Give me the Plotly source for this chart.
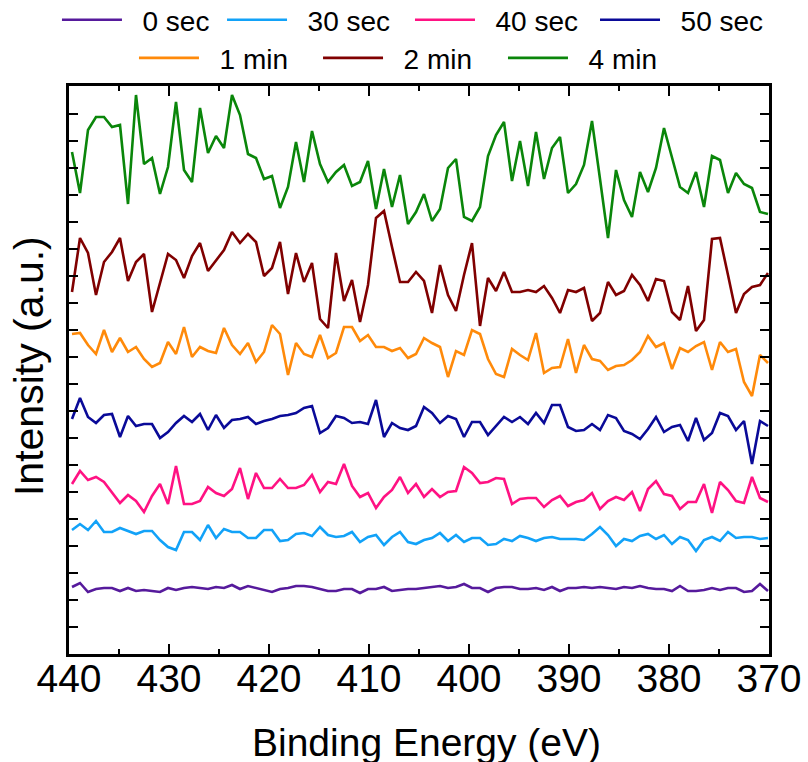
import numpy as np
import plotly.graph_objects as go

# Binding energy grid (eV), 88 channels
energy = np.round(439.7 - 0.8 * np.arange(88), 2)

# Stacked spectra, intensity in arbitrary units (offset for display)
s0_sec = [68, 72, 63, 66, 67, 67, 64, 67, 64, 65, 64,
          63, 67, 65, 67, 68, 67, 66, 68, 67, 70,
          66, 69, 67, 65, 63, 66, 67, 69, 69, 68,
          66, 64, 64, 66, 66, 62, 66, 66, 68, 64,
          65, 66, 66, 67, 68, 69, 67, 68, 71, 67,
          67, 63, 67, 68, 68, 66, 66, 67, 65, 68,
          64, 67, 67, 68, 67, 68, 67, 66, 68, 67,
          69, 67, 66, 66, 64, 69, 64, 64, 65, 67,
          65, 67, 67, 63, 64, 71, 64]
s30_sec = [125, 131, 125, 134, 123, 123, 127, 124, 121, 124, 124,
           115, 108, 105, 123, 123, 115, 130, 117, 126, 123,
           123, 117, 117, 125, 125, 114, 115, 121, 122, 119,
           128, 120, 118, 119, 123, 113, 118, 120, 110, 118,
           123, 113, 111, 115, 117, 122, 114, 120, 113, 117,
           117, 110, 111, 116, 114, 119, 117, 114, 117, 118,
           116, 116, 116, 115, 121, 128, 120, 109, 116, 114,
           119, 121, 116, 120, 111, 118, 115, 104, 115, 118,
           114, 123, 117, 118, 118, 116, 117]
s40_sec = [171, 184, 175, 178, 173, 163, 152, 160, 154, 143, 159,
           171, 151, 189, 151, 151, 154, 168, 162, 159, 166,
           187, 156, 182, 167, 167, 176, 167, 167, 170, 180,
           163, 173, 171, 191, 169, 158, 162, 147, 158, 165,
           178, 162, 171, 158, 166, 158, 163, 164, 188, 182,
           172, 173, 177, 176, 151, 156, 157, 157, 148, 155,
           159, 149, 153, 155, 162, 146, 154, 158, 155, 163,
           144, 166, 174, 161, 159, 146, 153, 153, 171, 142,
           173, 165, 154, 152, 178, 157, 153]
s50_sec = [236, 257, 238, 232, 240, 241, 218, 239, 229, 231, 231,
           217, 223, 232, 239, 233, 241, 225, 240, 227, 235,
           236, 238, 231, 234, 236, 239, 240, 242, 247, 249,
           222, 227, 239, 237, 232, 233, 231, 255, 218, 232,
           227, 225, 229, 248, 242, 232, 239, 236, 218, 233,
           233, 220, 229, 238, 233, 238, 231, 242, 232, 250,
           250, 228, 224, 225, 231, 225, 240, 237, 224, 221,
           216, 226, 238, 223, 228, 230, 214, 237, 215, 222,
           242, 239, 225, 234, 191, 234, 229]
s1_min = [321, 322, 310, 301, 325, 303, 317, 303, 308, 296, 288,
          292, 313, 301, 328, 298, 308, 304, 302, 327, 310,
          301, 312, 293, 303, 330, 321, 280, 312, 301, 298,
          320, 297, 302, 328, 328, 314, 320, 308, 308, 304,
          307, 297, 301, 317, 312, 308, 278, 304, 300, 325,
          321, 296, 281, 278, 306, 300, 295, 322, 282, 287,
          288, 316, 282, 310, 296, 294, 285, 289, 290, 295,
          303, 319, 308, 312, 286, 307, 303, 309, 313, 285,
          313, 303, 306, 273, 259, 300, 292]
s2_min = [363, 417, 402, 360, 393, 403, 417, 374, 393, 401, 343,
          373, 401, 395, 377, 399, 412, 384, 394, 405, 423,
          412, 421, 413, 379, 387, 413, 361, 402, 373, 392,
          336, 327, 402, 354, 375, 333, 370, 437, 444, 408,
          373, 373, 383, 374, 342, 390, 360, 344, 380, 412,
          329, 377, 364, 383, 363, 363, 365, 363, 369, 357,
          342, 365, 363, 367, 334, 342, 373, 360, 364, 380,
          370, 354, 376, 374, 343, 335, 369, 324, 335, 416,
          417, 380, 342, 361, 368, 370, 382]
s4_min = [503, 462, 525, 538, 538, 528, 530, 451, 560, 491, 497,
          461, 488, 553, 485, 473, 547, 502, 519, 507, 560,
          540, 501, 497, 476, 479, 447, 468, 513, 473, 524,
          491, 473, 483, 490, 469, 473, 494, 446, 486, 448,
          480, 431, 443, 461, 434, 446, 487, 496, 438, 434,
          448, 499, 520, 533, 474, 514, 469, 523, 476, 507,
          518, 462, 471, 490, 534, 476, 417, 485, 455, 438,
          483, 463, 487, 527, 497, 468, 462, 483, 448, 499,
          495, 462, 482, 471, 467, 443, 441]

names = ["0 sec", "30 sec", "40 sec", "50 sec", "1 min", "2 min", "4 min"]
series = [s0_sec, s30_sec, s40_sec, s50_sec, s1_min, s2_min, s4_min]
colors = ["#561A9C", "#12A2F8", "#FF1283", "#0A0A98", "#FF8A0A", "#800000", "#0A860A"]

# legend entry placement: two centred rows (4 + 3) above the plot
leg_x = [0.0705, 0.2748, 0.5074, 0.7364, 0.1658, 0.3936, 0.6225]   # container fraction
leg_y = [1.160, 1.160, 1.160, 1.160, 1.093, 1.093, 1.093]          # paper fraction

x_title = "Binding Energy (eV)"
y_title = "Intensity (a.u.)"

FONT = "Liberation Sans, Arial, sans-serif"

fig = go.Figure()
legends = {}
for k, (nm, ys, col) in enumerate(zip(names, series, colors)):
    lid = "legend" if k == 0 else f"legend{k + 1}"
    fig.add_trace(go.Scatter(
        x=energy, y=ys, mode="lines", name="\u00a0\u00a0" + nm,
        line=dict(color=col, width=2.6), legend=lid,
    ))
    legends[lid] = dict(
        orientation="h", font=dict(family=FONT, size=28, color="black"),
        bgcolor="rgba(0,0,0,0)", borderwidth=0, itemwidth=60,
        xref="container", yref="paper", xanchor="left", yanchor="top",
        x=leg_x[k], y=leg_y[k],
        itemclick=False, itemdoubleclick=False,
    )

fig.update_layout(
    width=808, height=762,
    margin=dict(l=69, r=39, t=86, b=108, autoexpand=False),
    paper_bgcolor="white", plot_bgcolor="white",
    font=dict(family=FONT, color="black"),
    showlegend=True,
    **legends,
)
# axis titles as annotations anchored to the plot area
fig.add_annotation(
    text=x_title, xref="paper", yref="paper", x=0.51, y=0,
    xanchor="center", yanchor="top", yshift=-65, showarrow=False,
    font=dict(family=FONT, size=39, color="black"),
)
fig.add_annotation(
    text=y_title, xref="paper", yref="paper", x=0, y=0.507, textangle=-90,
    xanchor="right", yanchor="middle", xshift=-15, showarrow=False,
    font=dict(family=FONT, size=41, color="black"),
)
fig.update_xaxes(
    range=[440, 370], tick0=440, dtick=10, automargin=False,
    showline=True, linecolor="black", linewidth=3, mirror="ticks",
    ticks="inside", ticklen=10, tickwidth=2, tickcolor="black",
    minor=dict(dtick=5, ticks="inside", ticklen=5, tickwidth=2, tickcolor="black"),
    showgrid=False, zeroline=False, ticklabelstandoff=-12,
    tickfont=dict(family=FONT, size=39, color="black"),
)
fig.update_yaxes(
    range=[1, 569], tick0=1, dtick=27, automargin=False,
    showline=True, linecolor="black", linewidth=3, mirror="ticks",
    ticks="inside", ticklen=9, tickwidth=2, tickcolor="black",
    showticklabels=False, showgrid=False, zeroline=False,
)

fig.write_html("out.html")
